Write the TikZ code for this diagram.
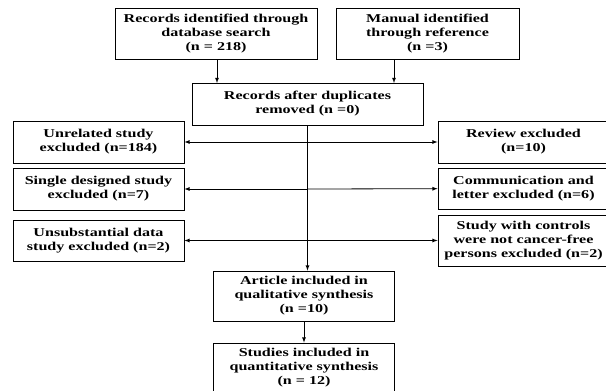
\documentclass[tikz,border=0pt]{standalone}
\usepackage{fontspec}
\setmainfont{Liberation Serif}[FakeStretch=1.34]
\usepackage{tikz}
\usetikzlibrary{arrows,positioning,calc}

\begin{document}
\begin{tikzpicture}[x=1pt, y=-1pt, >=latex, line width=0.8pt,
    box/.style={draw, fill=white, inner sep=0pt, align=center,
      font=\fontsize{12}{14}\selectfont\bfseries}]
    \useasboundingbox (0,0) rectangle (606,391);

    \node[box, minimum width=202, minimum height=51] (ident) at (216,33.5) {Records identified through\\database search\\(n = 218)};
    \node[box, minimum width=183, minimum height=51] (manual) at (427.5,33.5) {Manual identified\\through reference\\(n =3)};
    \node[box, minimum width=231, minimum height=42] (dup) at (307.5,104) {Records after duplicates\\removed (n =0)};

    \node[box, minimum width=171, minimum height=42] (unrel) at (98.5,142) {Unrelated study\\excluded (n=184)};
    \node[box, minimum width=171, minimum height=42] (single) at (98.5,189) {Single designed study\\excluded (n=7)};
    \node[box, minimum width=171, minimum height=41] (unsub) at (98.5,240.5) {Unsubstantial data\\study excluded (n=2)};

    \node[box, minimum width=171, minimum height=42] (review) at (523.5,142) {Review excluded\\(n=10)};
    \node[box, minimum width=171, minimum height=41] (comm) at (523.5,188.5) {Communication and\\letter excluded (n=6)};
    \node[box, minimum width=171, minimum height=51] (ctrl) at (523.5,240.5) {Study with controls\\were not cancer-free\\persons excluded (n=2)};

    \node[box, minimum width=181, minimum height=50] (quali) at (304,296) {Article included in\\qualitative synthesis\\(n =10)};
    \node[box, minimum width=181, minimum height=49] (quanti) at (304,367.5) {Studies included in\\quantitative synthesis\\(n = 12)};

    \coordinate (inA) at (217,83);
    \coordinate (inB) at (394,83);
    \coordinate (c1) at (dup.south |- unrel.east);
    \coordinate (c2) at (dup.south |- single.east);
    \coordinate (c3) at (dup.south |- unsub.east);

    \draw[->] (ident.south -| inA) -- (inA);
    \draw[->] (manual.south -| inB) -- (inB);
    \draw[->] (dup.south) -- (dup.south |- quali.north);
    \draw[->] (quali) -- (quanti);

    \draw[->] (c1) -- (unrel);
    \draw[->] (c1) -- (review);
    \draw[->] (c2) -- (single);
    \draw[->] (c2) -- (comm);
    \draw[->] (c3) -- (unsub);
    \draw[->] (c3) -- (ctrl);
\end{tikzpicture}
\end{document}
